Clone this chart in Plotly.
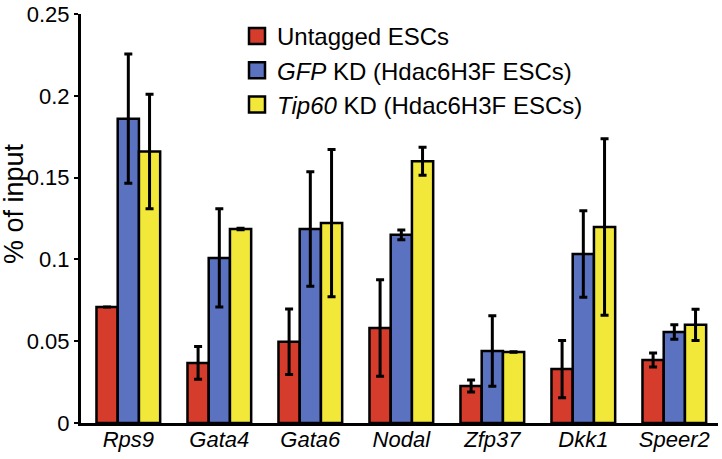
import plotly.graph_objects as go

genes = ["Rps9", "Gata4", "Gata6", "Nodal", "Zfp37", "Dkk1", "Speer2"]
tick_labels = ["<i>%s</i>" % g for g in genes]

series_names = [
    "Untagged ESCs",
    "<i>GFP</i> KD (Hdac6H3F ESCs)",
    "<i>Tip60</i> KD (Hdac6H3F ESCs)",
]
colors = ["#d63c2c", "#5a72c0", "#f2e83a"]

untagged = [0.0709, 0.0367, 0.0497, 0.0580, 0.0226, 0.0330, 0.0385]
untagged_err = [None, 0.0100, 0.0200, 0.0295, 0.0037, 0.0175, 0.0043]

gfp = [0.186, 0.1009, 0.1186, 0.1150, 0.0440, 0.1033, 0.0556]
gfp_err = [0.0395, 0.0300, 0.0350, 0.0030, 0.0215, 0.0265, 0.0044]

tip60 = [0.166, 0.1186, 0.1222, 0.1600, 0.0434, 0.1198, 0.0600]
tip60_err = [0.0350, 0.0005, 0.0450, 0.0085, 0.0002, 0.0540, 0.0095]

values = [untagged, gfp, tip60]
errors = [untagged_err, gfp_err, tip60_err]

x = list(range(len(genes)))

fig = go.Figure()
for name, col, v, e in zip(series_names, colors, values, errors):
    fig.add_trace(go.Bar(
        x=x, y=v, name=name, showlegend=False,
        marker=dict(color=col, line=dict(color="black", width=2.5)),
        error_y=dict(type="data", array=e, visible=True, color="black",
                     thickness=3, width=4),
    ))
# legend entries (square swatches)
for name, col in zip(series_names, colors):
    fig.add_trace(go.Scatter(
        x=[None], y=[None], mode="markers", name=name,
        marker=dict(symbol="square", size=16, color=col,
                    line=dict(color="black", width=2.5)),
    ))

W, H = 722, 459
L, R, T, B = 81, 4, 14, 36
plot_w = W - L - R
plot_h = H - T - B

fig.update_layout(
    width=W, height=H,
    margin=dict(l=L, r=R, t=T, b=B, autoexpand=False),
    paper_bgcolor="white", plot_bgcolor="white",
    barmode="group", bargap=0.3, bargroupgap=0,
    font=dict(family="Liberation Sans, Arial, sans-serif", color="black", size=22),
    showlegend=True,
    legend=dict(xref="container", yref="container",
                x=237 / W, y=1 - 14 / H,
                xanchor="left", yanchor="top",
                font=dict(size=24), bgcolor="rgba(0,0,0,0)",
                tracegroupgap=0, itemwidth=30),
    xaxis=dict(
        range=[-0.52, 6.48], tickmode="array", tickvals=x, ticktext=tick_labels,
        showline=True, linecolor="black", linewidth=3, ticks="",
        showgrid=False, zeroline=False, tickfont=dict(size=22),
        ticklabelstandoff=-5, automargin=False,
    ),
    yaxis=dict(
        range=[0, 0.25], tickmode="array",
        tickvals=[0, 0.05, 0.1, 0.15, 0.2, 0.25],
        ticktext=["0", "0.05", "0.1", "0.15", "0.2", "0.25"],
        showline=True, linecolor="black", linewidth=3,
        ticks="outside", ticklen=4, tickwidth=2, tickcolor="black",
        showgrid=False, zeroline=False, tickfont=dict(size=22),
        automargin=False,
    ),
    annotations=[dict(
        text="% of input", textangle=-90, showarrow=False,
        xref="paper", yref="paper",
        x=(14 - L) / plot_w, y=(H - B - 204) / plot_h,
        xanchor="center", yanchor="middle",
        font=dict(size=27),
    )],
)

fig.write_html("out.html", config={"displayModeBar": False},
               post_script="document.body.style.margin='0';")
